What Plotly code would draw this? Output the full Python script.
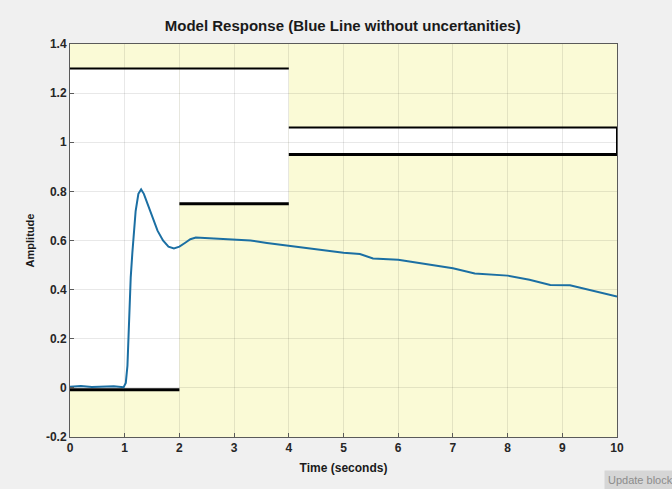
import plotly.graph_objects as go

# Step response (nominal model)
t = [0, 0.2, 0.4, 0.6, 0.8, 0.98, 1.02, 1.05, 1.08, 1.11, 1.14, 1.17, 1.20, 1.25, 1.30,
     1.35, 1.40, 1.50, 1.60, 1.70, 1.80, 1.90, 2.00, 2.10, 2.20, 2.30, 2.50, 2.70, 3.00,
     3.30, 3.60, 4.00, 4.50, 5.00, 5.30, 5.54, 6.00, 6.50, 7.00, 7.40, 8.00, 8.40, 8.78,
     9.14, 9.50, 10.0]
y = [0.005, 0.008, 0.004, 0.006, 0.007, 0.003, 0.02, 0.09, 0.28, 0.45, 0.55, 0.64, 0.72,
     0.79, 0.808, 0.79, 0.76, 0.70, 0.64, 0.60, 0.575, 0.568, 0.575, 0.59, 0.605, 0.612,
     0.61, 0.605, 0.603, 0.600, 0.590, 0.579, 0.565, 0.550, 0.545, 0.527, 0.522, 0.505,
     0.487, 0.466, 0.457, 0.44, 0.419, 0.418, 0.40, 0.372]

# Constraint bounds: (t_start, t_end, value)
upper_bounds = [(0, 4, 1.3), (4, 10, 1.06)]
lower_bounds = [(0, 2, -0.008), (2, 4, 0.75), (4, 10, 0.95)]

x_ticks = list(range(0, 11))
y_ticks = [-0.2, 0, 0.2, 0.4, 0.6, 0.8, 1, 1.2, 1.4]
y_tick_text = ["-0.2", "0", "0.2", "0.4", "0.6", "0.8", "1", "1.2", "1.4"]

YELLOW = "#fafad6"
FONT = "Liberation Sans, Arial, sans-serif"

def upper_at(a, b):
    for s, e, v in upper_bounds:
        if s <= a and b <= e:
            return v
    return None

fig = go.Figure()

shapes = []
# white allowed regions (below gridlines)
for s, e, v in lower_bounds:
    u = upper_at(s, e)
    shapes.append(dict(type="rect", xref="x", yref="y", x0=s, x1=e, y0=v, y1=u,
                       fillcolor="white", line=dict(width=0), layer="below"))

# bound lines
for s, e, v in upper_bounds:
    fig.add_trace(go.Scatter(x=[s, e], y=[v, v], mode="lines",
                             line=dict(color="black", width=2), showlegend=False,
                             hoverinfo="skip"))
for s, e, v in lower_bounds:
    fig.add_trace(go.Scatter(x=[s, e], y=[v, v], mode="lines",
                             line=dict(color="black", width=3), showlegend=False,
                             hoverinfo="skip"))
# right edge of final band
fig.add_trace(go.Scatter(x=[10, 10], y=[lower_bounds[-1][2], upper_bounds[-1][2]],
                         mode="lines", line=dict(color="black", width=2),
                         showlegend=False, hoverinfo="skip"))

fig.add_trace(go.Scatter(x=t, y=y, mode="lines",
                         line=dict(color="#1b6fa3", width=2), showlegend=False))

axis_common = dict(showgrid=True, gridcolor="rgba(0,0,0,0.09)", gridwidth=1,
                   zeroline=False, showline=True, linecolor="#5a5a5a", linewidth=1,
                   mirror=True, ticks="inside", ticklen=4, tickcolor="#5a5a5a",
                   tickfont=dict(family=FONT, size=12, color="#262626", weight="bold"))

fig.update_layout(
    width=672, height=489,
    margin=dict(l=70, r=55, t=44, b=52),
    paper_bgcolor="#f0f0f0",
    plot_bgcolor=YELLOW,
    shapes=shapes,
    title=dict(text="Model Response (Blue Line without uncertanities)",
               x=0.51, xanchor="center", y=0.947, yanchor="middle",
               font=dict(family=FONT, size=15, color="#1a1a1a", weight="bold")),
    xaxis=dict(range=[0, 10], tickvals=x_ticks, **axis_common,
               title=dict(text="Time (seconds)", standoff=9,
                          font=dict(family=FONT, size=12, color="#1a1a1a", weight="bold"))),
    yaxis=dict(range=[-0.2, 1.4], tickvals=y_ticks, ticktext=y_tick_text, **axis_common,
               title=dict(text="Amplitude", standoff=9,
                          font=dict(family=FONT, size=11, color="#1a1a1a", weight="bold"))),
    annotations=[dict(text="Update block", xref="paper", yref="paper",
                      x=(672 - 70) / 547 + 0.01, y=(437 - 480) / 393,
                      xanchor="right", yanchor="middle", showarrow=False,
                      bgcolor="#d6d6d6", borderpad=3,
                      font=dict(family=FONT, size=11, color="#8c8c8c"))],
)

fig.write_html("out.html")
